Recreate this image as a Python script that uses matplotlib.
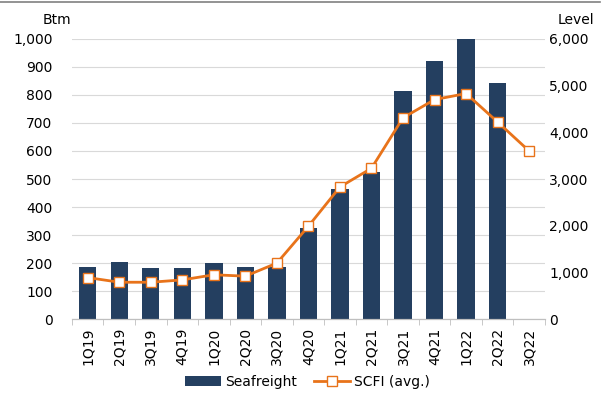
import numpy as np
import matplotlib
matplotlib.use('Agg')
import matplotlib.pyplot as plt
from matplotlib.ticker import FuncFormatter, FixedLocator

quarters = ['1Q19', '2Q19', '3Q19', '4Q19', '1Q20', '2Q20', '3Q20', '4Q20',
            '1Q21', '2Q21', '3Q21', '4Q21', '1Q22', '2Q22', '3Q22']
seafreight = [186, 204, 182, 182, 200, 186, 186, 325,
              464, 525, 814, 921, 1000, 843, np.nan]
scfi = [890, 790, 790, 840, 950, 920, 1200, 1990,
        2830, 3230, 4310, 4700, 4830, 4220, 3600]

NAVY = '#243f60'
ORANGE = '#e8731a'


def thousands(v, pos):
    return '{:,.0f}'.format(v)


def main():
    fig = plt.figure(figsize=(6.15, 4.05), dpi=100)
    ax = fig.add_axes([0.117, 0.212, 0.769, 0.692])
    ax2 = ax.twinx()

    x = np.arange(len(quarters))
    ax.bar(x, seafreight, width=0.55, color=NAVY, zorder=2, label='Seafreight')
    ax2.plot(x, scfi, color=ORANGE, lw=2, marker='s', ms=7,
             mfc='white', mec=ORANGE, mew=1, label='SCFI (avg.)', zorder=3)

    ax.set_ylim(0, 1000)
    ax2.set_ylim(0, 6000)
    ax.set_xlim(-0.5, len(quarters) - 0.5)
    ax.set_yticks(np.arange(0, 1001, 100))
    ax2.set_yticks(np.arange(0, 6001, 1000))
    ax.yaxis.set_major_formatter(FuncFormatter(thousands))
    ax2.yaxis.set_major_formatter(FuncFormatter(thousands))

    ax.grid(axis='y', color='#d9d9d9', lw=0.8, zorder=0)
    ax.set_axisbelow(True)

    ax.set_xticks(x)
    ax.set_xticklabels(quarters, rotation=90, fontsize=10)
    ax.xaxis.set_minor_locator(FixedLocator(np.arange(-0.5, len(quarters), 1)))
    ax.tick_params(axis='x', which='major', length=0, pad=6)
    ax.tick_params(axis='x', which='minor', length=4, color='#bfbfbf')
    ax.tick_params(axis='y', length=0, labelsize=10, pad=14)
    ax2.tick_params(axis='y', length=0, labelsize=10, pad=3)

    for a in (ax, ax2):
        for s in ('top', 'left', 'right'):
            a.spines[s].set_visible(False)
        a.spines['bottom'].set_color('#bfbfbf')

    fig.text(0.093, 0.94, 'Btm', fontsize=10, ha='center')
    fig.text(0.937, 0.94, 'Level', fontsize=10, ha='center')

    # thin rule at the top of the figure
    fig.add_artist(plt.Line2D([0.0, 0.975], [0.995, 0.995], color='#808080', lw=1.2))

    h1, l1 = ax.get_legend_handles_labels()
    h2, l2 = ax2.get_legend_handles_labels()
    fig.legend(h1 + h2, l1 + l2, loc='center', bbox_to_anchor=(0.5, 0.057),
               ncol=2, frameon=False, fontsize=10, handlelength=2.6,
               columnspacing=1.2, handletextpad=0.3)

    fig.savefig('out.png', dpi=100)


if __name__ == '__main__':
    main()
